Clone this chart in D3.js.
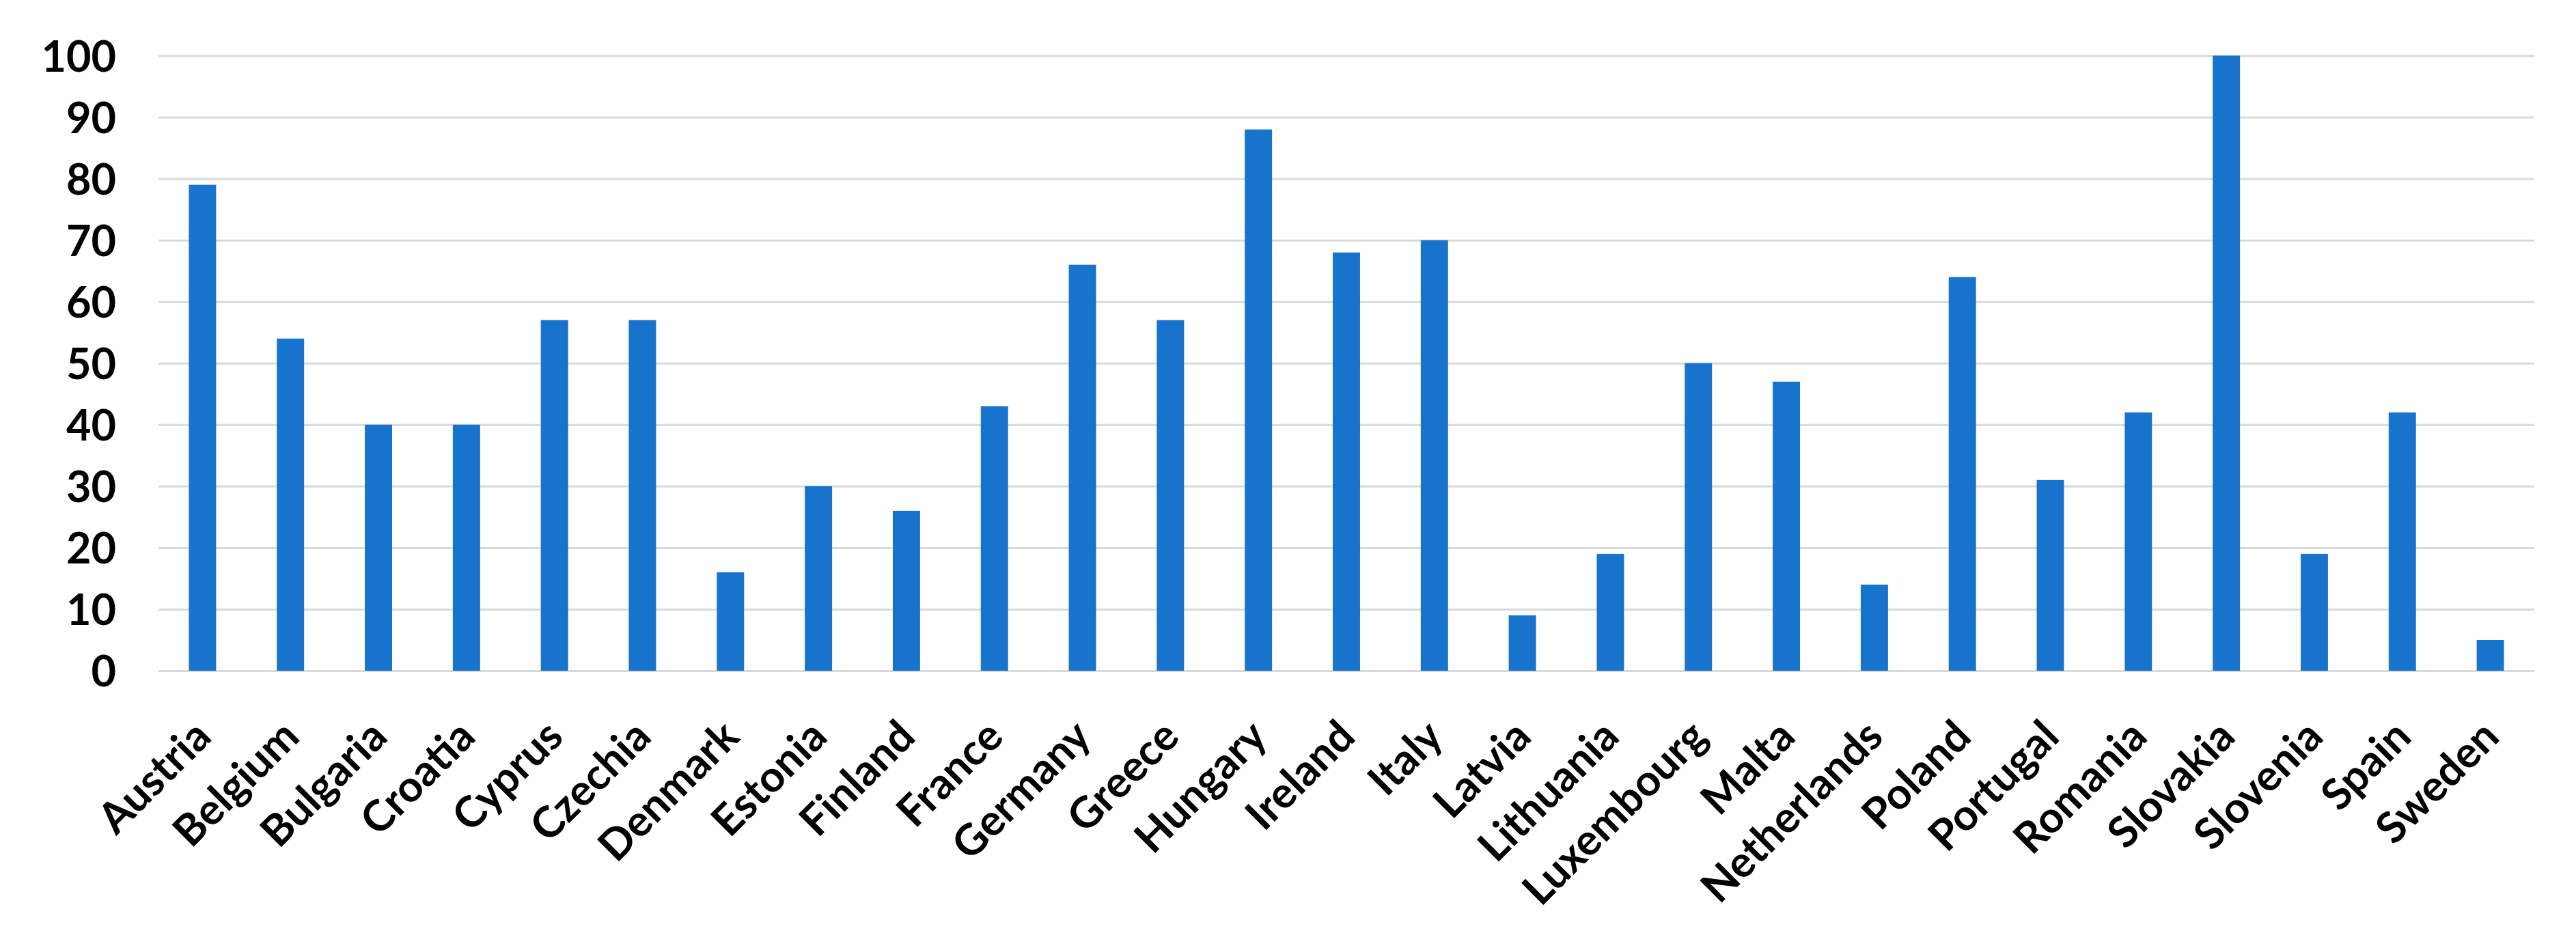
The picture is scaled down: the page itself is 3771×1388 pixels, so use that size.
<!DOCTYPE html>
<html>
<head>
<meta charset="utf-8">
<script src="https://cdn.jsdelivr.net/npm/d3@7"></script>
<style>
  html, body { margin: 0; padding: 0; background: #ffffff; }
  svg { display: block; }
</style>
</head>
<body>
<div id="chart"></div>
<script>
const categories = ["Austria","Belgium","Bulgaria","Croatia","Cyprus","Czechia","Denmark","Estonia","Finland","France","Germany","Greece","Hungary","Ireland","Italy","Latvia","Lithuania","Luxembourg","Malta","Netherlands","Poland","Portugal","Romania","Slovakia","Slovenia","Spain","Sweden"];
const values = [79,54,40,40,57,57,16,30,26,43,66,57,88,68,70,9,19,50,47,14,64,31,42,100,19,42,5];
const yTicks = [0,10,20,30,40,50,60,70,80,90,100];

(function () {
const W = 3771, H = 1388;
const plotLeft = 232, plotRight = 3710, plotTop = 81.5, plotBottom = 982;
const FONT = "Lato, 'Open Sans', sans-serif";

const svg = d3.select("#chart").append("svg")
  .attr("width", W).attr("height", H)
  .style("background", "#ffffff");

const x = d3.scaleBand().domain(categories).range([plotLeft, plotRight])
  .paddingInner(0.69).paddingOuter(0.345);
const y = d3.scaleLinear().domain([0, 100]).range([plotBottom, plotTop]);

// gridlines
const grid = svg.append("g").attr("transform", `translate(${plotLeft},0)`)
  .call(d3.axisLeft(y).tickValues(yTicks).tickSize(-(plotRight - plotLeft)).tickFormat(""));
grid.select(".domain").remove();
grid.selectAll("line").attr("stroke", "#d9d9d9").attr("stroke-width", 3);

// bars
svg.append("g").selectAll("rect").data(categories).join("rect")
  .attr("x", d => x(d))
  .attr("width", x.bandwidth())
  .attr("y", (d, i) => y(values[i]))
  .attr("height", (d, i) => y(0) - y(values[i]))
  .attr("fill", "#1773cc");

// y axis labels
const yAxis = svg.append("g").attr("transform", `translate(${plotLeft},0)`)
  .call(d3.axisLeft(y).tickValues(yTicks).tickSize(0).tickPadding(62));
yAxis.select(".domain").remove();
yAxis.selectAll("text")
  .attr("font-family", FONT).attr("font-weight", 700)
  .attr("font-size", 63).attr("fill", "#000")
  .attr("dy", "0.36em");

// x axis labels
const xAxis = svg.append("g").attr("transform", `translate(0,${plotBottom})`)
  .call(d3.axisBottom(x).tickSize(0));
xAxis.select(".domain").remove();
xAxis.selectAll("text")
  .attr("font-family", FONT).attr("font-weight", 700)
  .attr("font-size", 63).attr("fill", "#000")
  .attr("x", 0).attr("y", 0).attr("dy", 0)
  .attr("text-anchor", "end")
  .attr("transform", "translate(16,100) rotate(-45)");
})();
</script>
</body>
</html>
